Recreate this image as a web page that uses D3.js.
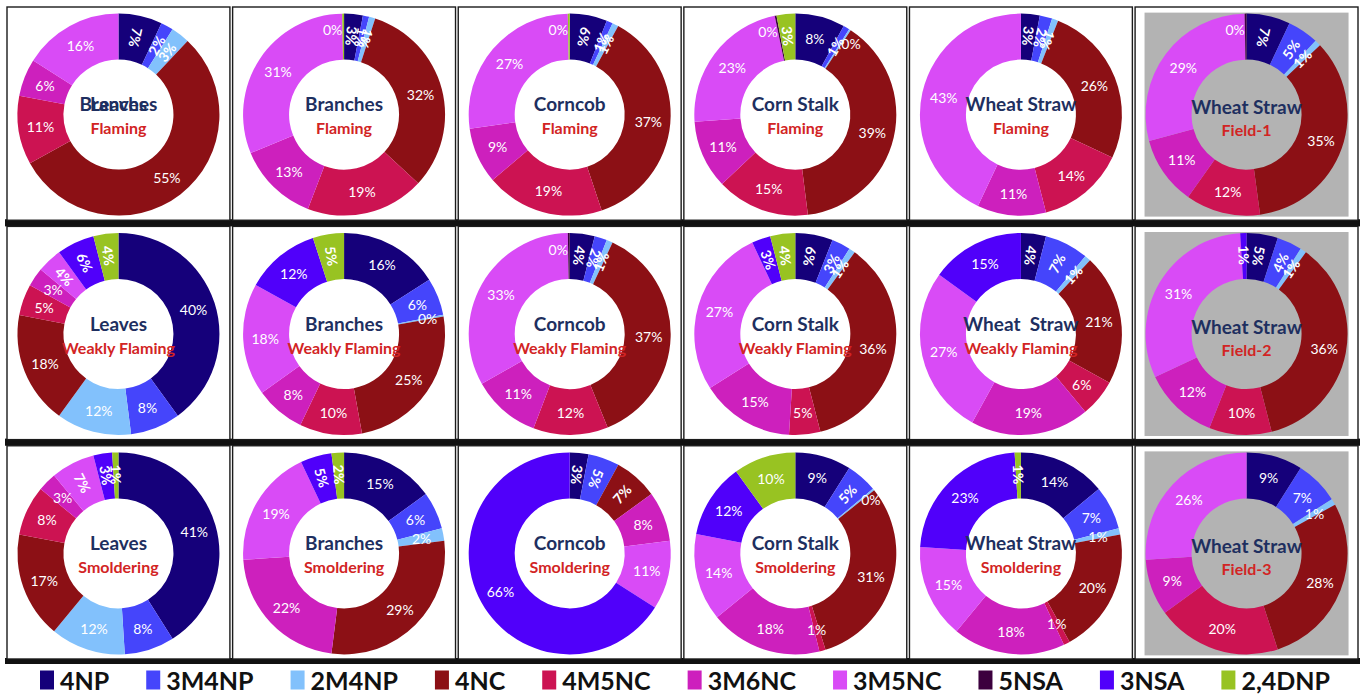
<!DOCTYPE html>
<html><head><meta charset="utf-8">
<script src="https://cdn.jsdelivr.net/npm/d3@7"></script>
<style>body{margin:0;background:#fff} svg{display:block}</style>
</head><body>
<svg id="chart" width="1363" height="695"></svg>
<script>
// ---------- data ----------
const compounds = ["4NP","3M4NP","2M4NP","4NC","4M5NC","3M6NC","3M5NC","5NSA","3NSA","2,4DNP"];
const compoundColors = ["#15007a","#4545fb","#82c1fc","#8c1015","#cc1352","#cd20bd","#d94bf6","#3c003e","#5000fa","#98c322"];

// values in %, order as compounds (tiny values shown as "0%")
const leavesFlaming          = [7, 2, 3, 55, 11, 6, 16, 0, 0, 0];
const branchesFlaming        = [3, 1, 1, 32, 19, 13, 31, 0, 0, 0.3];
const corncobFlaming         = [6, 1, 1, 37, 19, 9, 27, 0, 0, 0.3];
const cornStalkFlaming       = [8, 1, 0.3, 39, 15, 11, 23, 0.3, 0, 3];
const wheatStrawFlaming      = [3, 2, 1, 26, 14, 11, 43, 0, 0, 0];
const wheatStrawField1       = [7, 5, 1, 35, 12, 11, 29, 0.3, 0, 0];

const leavesWeakly           = [40, 8, 12, 18, 5, 3, 4, 0, 6, 4];
const branchesWeakly         = [16, 6, 0.3, 25, 10, 8, 18, 0, 12, 5];
const corncobWeakly          = [4, 2, 1, 37, 12, 11, 33, 0.3, 0, 0];
const cornStalkWeakly        = [6, 3, 1, 36, 5, 15, 27, 0, 3, 4];
const wheatStrawWeakly       = [4, 7, 1, 21, 6, 19, 27, 0, 15, 0];
const wheatStrawField2       = [5, 4, 1, 36, 10, 12, 31, 0, 1, 0];

const leavesSmoldering       = [41, 8, 12, 17, 8, 3, 7, 0, 3, 1];
const branchesSmoldering     = [15, 6, 2, 29, 0, 22, 19, 0, 5, 2];
const corncobSmoldering      = [3, 5, 0, 7, 0, 8, 11, 0, 66, 0];
const cornStalkSmoldering    = [9, 5, 0.3, 31, 1, 18, 14, 0, 12, 10];
const wheatStrawSmoldering   = [14, 7, 1, 20, 1, 18, 15, 0, 23, 1];
const wheatStrawField3       = [9, 7, 1, 28, 20, 9, 26, 0, 0, 0];

const panelValues = [
  [leavesFlaming, branchesFlaming, corncobFlaming, cornStalkFlaming, wheatStrawFlaming, wheatStrawField1],
  [leavesWeakly, branchesWeakly, corncobWeakly, cornStalkWeakly, wheatStrawWeakly, wheatStrawField2],
  [leavesSmoldering, branchesSmoldering, corncobSmoldering, cornStalkSmoldering, wheatStrawSmoldering, wheatStrawField3]
];
const panelTitles = [
  ["Leaves","Branches","Corncob","Corn Stalk","Wheat Straw","Wheat Straw"],
  ["Leaves","Branches","Corncob","Corn Stalk","Wheat  Straw","Wheat Straw"],
  ["Leaves","Branches","Corncob","Corn Stalk","Wheat Straw","Wheat Straw"]
];
const panelSubtitles = [
  ["Flaming","Flaming","Flaming","Flaming","Flaming","Field-1"],
  ["Weakly Flaming","Weakly Flaming","Weakly Flaming","Weakly Flaming","Weakly Flaming","Field-2"],
  ["Smoldering","Smoldering","Smoldering","Smoldering","Smoldering","Field-3"]
];
const strayTitle = "Branches";   // overprinted title in the first panel of the original
const fieldColumn = 5;

// ---------- drawing ----------
const svg = d3.select("#chart");
const colX = d3.scaleBand().domain(d3.range(6)).range([7, 1358]).paddingInner(0.012);
const rowY = d3.scaleBand().domain(d3.range(3)).range([7, 659]).paddingInner(0.028);
const color = d3.scaleOrdinal().domain(compounds).range(compoundColors);
const R = 101, R0 = 55, RL = 79;
const arc = d3.arc().innerRadius(R0).outerRadius(R);
const pie = d3.pie().sort(null).value(d => d.v);
const FONT = "Lato, 'Open Sans', sans-serif";

// thick dark bands under each row
for (let r = 0; r < 3; r++) {
  const yEnd = rowY(r) + rowY.bandwidth();
  const next = r < 2 ? rowY(r + 1) : yEnd + 5;
  svg.append("rect").attr("x", 5).attr("y", yEnd - 1).attr("width", 1355).attr("height", next - yEnd + 1)
    .attr("fill", "#111");
}

for (let r = 0; r < 3; r++) {
  for (let c = 0; c < 6; c++) {
    const x0 = colX(c), y0 = rowY(r), w = colX.bandwidth(), h = rowY.bandwidth();
    const cx = x0 + w / 2, cy = y0 + h / 2 + 1;
    const g = svg.append("g");
    g.append("rect").attr("x", x0).attr("y", y0).attr("width", w).attr("height", h)
      .attr("fill", "#fff").attr("stroke", "#1b1b1b").attr("stroke-width", 1.4);
    const isField = c === fieldColumn;
    if (isField) {
      g.append("rect").attr("x", cx - R - 1).attr("y", cy - R - 1)
        .attr("width", 2 * R + 2).attr("height", 2 * R + 2).attr("fill", "#b3b3b3");
    }
    const data = compounds.map((name, i) => ({name, v: panelValues[r][c][i]}));
    const arcs = pie(data);
    const dg = g.append("g").attr("transform", `translate(${cx},${cy})`);
    dg.selectAll("path").data(arcs.filter(d => d.data.v > 0)).join("path")
      .attr("d", arc).attr("fill", d => color(d.data.name));

    arcs.filter(d => d.data.v > 0).forEach(d => {
      const a = (d.startAngle + d.endAngle) / 2;
      let deg = a * 180 / Math.PI; if (deg > 180) deg -= 360;
      const v = d.data.v;
      const txt = Math.round(v) + "%";
      const t = dg.append("text").text(txt)
        .attr("fill", "#fff").attr("font-family", FONT).attr("font-size", 14)
        .attr("dominant-baseline", "central");
      if (v < 0.5) {
        const rr = 85;
        let x = rr * Math.sin(a), y = -rr * Math.cos(a);
        let anchor = "middle";
        if (deg < 0) { anchor = "end"; x -= 1; }
        else if (deg < 60) { anchor = "start"; }
        t.attr("x", x).attr("y", y).attr("text-anchor", anchor);
      } else {
        const x = RL * Math.sin(a), y = -RL * Math.cos(a);
        const rotate = (v < 8 && Math.abs(deg) < 44) || (v < 3 && Math.abs(deg) < 50);
        t.attr("text-anchor", "middle");
        if (rotate) {
          let rot = deg <= 20 ? 90 + deg : deg - 90;
          t.attr("font-weight", "bold")
            .attr("transform", `translate(${x},${y}) rotate(${rot})`);
        } else {
          t.attr("x", x).attr("y", y);
        }
      }
    });

    const tDy = isField ? -8 : -11, sDy = isField ? 15 : 13;
    const titles = [panelTitles[r][c]];
    if (r === 0 && c === 0) titles.push(strayTitle);
    titles.forEach(tt => {
      dg.append("text").text(tt).attr("x", 0).attr("y", tDy)
        .attr("text-anchor", "middle").attr("dominant-baseline", "central")
        .attr("font-family", FONT).attr("font-weight", "bold").attr("font-size", 19)
        .attr("fill", "#1e2f60").style("white-space", "pre");
    });
    dg.append("text").text(panelSubtitles[r][c]).attr("x", 0).attr("y", sDy)
      .attr("text-anchor", "middle").attr("dominant-baseline", "central")
      .attr("font-family", FONT).attr("font-weight", "bold").attr("font-size", 16)
      .attr("fill", "#d22424");
  }
}

// ---------- legend ----------
const legend = svg.append("g");
const legY = 680, sqW = 14, sqH = 19, sqGap = 6;
const items = compounds.map(name => {
  const gi = legend.append("g");
  gi.append("rect").attr("width", sqW).attr("height", sqH).attr("y", -sqH / 2).attr("fill", color(name));
  const t = gi.append("text").text(name).attr("x", sqW + sqGap).attr("y", 0)
    .attr("dominant-baseline", "central").attr("font-family", FONT).attr("font-weight", "bold")
    .attr("font-size", 25).attr("fill", "#111");
  return {gi, w: sqW + sqGap + t.node().getComputedTextLength()};
});
const legL = 40, legR = 1330;
const totalW = d3.sum(items, d => d.w);
const gap = (legR - legL - totalW) / (items.length - 1);
let xx = legL;
items.forEach(it => { it.gi.attr("transform", `translate(${xx},${legY})`); xx += it.w + gap; });
</script>
</body></html>
